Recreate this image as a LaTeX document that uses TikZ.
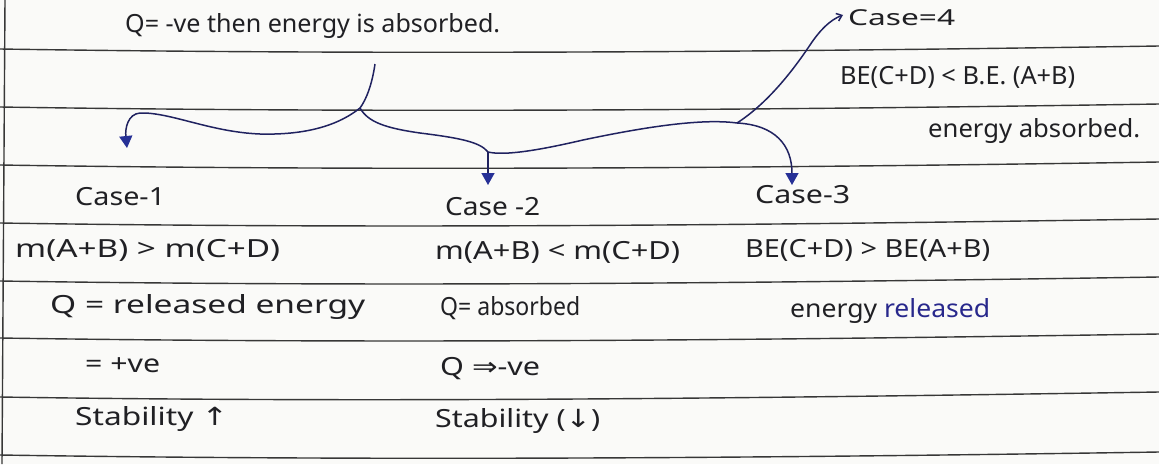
\documentclass[tikz,border=0pt]{standalone}
\usepackage{fontspec}
\usepackage{graphicx}
\setmainfont{Noto Sans}
\newfontfamily\symf{DejaVu Sans}
\usetikzlibrary{arrows.meta}
\definecolor{ink}{RGB}{32,32,36}
\definecolor{blueink}{RGB}{32,34,96}
\definecolor{tipblue}{RGB}{38,48,150}
\definecolor{penblue}{RGB}{40,40,140}
\definecolor{rulecol}{RGB}{55,55,55}
\definecolor{paper}{RGB}{250,250,248}
\newcommand{\hw}[2]{\resizebox{#1pt}{\height}{#2}}
\begin{document}
\begin{tikzpicture}[x=1pt,y=-1pt,
  hand/.style={inner sep=0pt, anchor=base west, text=ink, font=\fontsize{25}{29}\selectfont},
  small/.style={hand, font=\fontsize{22}{26}\selectfont},
  ruleline/.style={draw=rulecol, line width=1.4pt},
  branch/.style={draw=blueink, line width=1.5pt},
  tipped/.style={branch, -{Triangle[length=12pt,width=13pt,color=tipblue]}},
  barbed/.style={branch, -{Straight Barb[length=5pt,width=8pt]}}]
\fill[paper] (0,0) rectangle (1159,464);
\useasboundingbox (0,0) rectangle (1159,464);
% ruled lines
\foreach \yl/\yr in {49/46,107/104,165/162,223/219,281/277,338/334,397/392,455/452}{
  \draw[ruleline] (0,\yl) .. controls (386,\yl+6) and (772,\yr+6) .. (1159,\yr);
}
\draw[draw=rulecol, line width=1.4pt] (5,0) -- (2,464);
% texts
\node[hand] (t0) at (125,32) {\hw{375}{Q= -ve then energy is absorbed.}};
\node[small] (c4t) at (848,25) {\hw{107}{Case=4}};
\node[hand] (be1) at (840,84) {\hw{235}{BE(C+D) < B.E. (A+B)}};
\node[hand] (ea) at (928,137) {\hw{212}{energy absorbed.}};
\node[hand] (c1t) at (75,205) {\hw{90}{Case-1}};
\node[hand] (c2t) at (445,215) {\hw{95}{Case -2}};
\node[hand] (c3t) at (755,203) {\hw{95}{Case-3}};
\node[hand] (m1) at (15,257) {\hw{265}{m(A+B) > m(C+D)}};
\node[hand] (m2) at (435,259) {\hw{245}{m(A+B) < m(C+D)}};
\node[hand] (be2) at (745,257) {\hw{245}{BE(C+D) > BE(A+B)}};
\node[hand] (q1) at (50,313) {\hw{315}{Q = released energy}};
\node[hand] (q2) at (440,315) {\hw{140}{Q= absorbed}};
\node[hand] (er) at (790,317) {\hw{200}{energy \textcolor{penblue}{released}}};
\node[hand] (pv) at (85,372) {\hw{75}{= +ve}};
\node[hand] (nv) at (440,375) {\hw{100}{Q {\symf ⇒}-ve}};
\node[hand] (s1) at (75,425) {\hw{153}{Stability {\symf ↑}}};
\node[hand] (s2) at (435,427) {\hw{165}{Stability ({\symf ↓})}};
% branching arrows
\coordinate (top) at (375,64);
\coordinate (j1) at (360,108);
\coordinate (c1) at (127,148);
\coordinate (j2) at (488,152);
\coordinate (c2) at (488,185);
\coordinate (j3) at (737,123);
\coordinate (c3) at (792,185);
\coordinate (c4) at (843,15);
\draw[branch] (top) .. controls (372,85) and (366,100) .. (j1);
\draw[tipped] (j1) .. controls (335,128) and (300,135) .. (260,134)
  .. controls (210,132) and (170,112) .. (140,113)
  .. controls (128,114) and (125,128) .. (c1);
\draw[branch] (j1) .. controls (368,122) and (385,128) .. (420,133)
  .. controls (460,138) and (480,142) .. (j2);
\draw[tipped] (j2) -- (c2);
\draw[branch] (j2) .. controls (505,156) and (540,150) .. (583,140)
  .. controls (640,128) and (700,118) .. (j3);
\draw[barbed] (j3) .. controls (765,105) and (790,75) .. (810,45)
  .. controls (820,30) and (830,20) .. (c4);
\draw[tipped] (j3) .. controls (775,125) and (792,145) .. (c3);
\end{tikzpicture}
\end{document}
